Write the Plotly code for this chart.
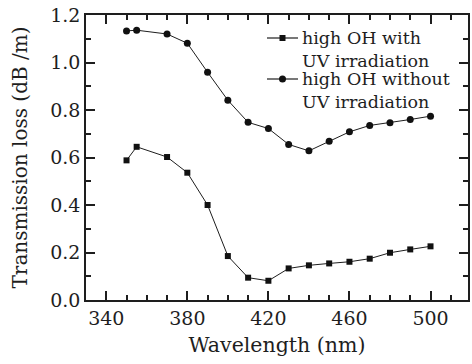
import plotly.graph_objects as go

wavelength = [350, 355, 370, 380, 390, 400, 410, 420, 430, 440, 450, 460, 470, 480, 490, 500]
with_uv = [0.588, 0.645, 0.602, 0.536, 0.400, 0.185, 0.094, 0.081, 0.133, 0.146, 0.154, 0.161, 0.174, 0.199, 0.213, 0.226]
without_uv = [1.133, 1.136, 1.120, 1.081, 0.959, 0.841, 0.748, 0.722, 0.655, 0.628, 0.668, 0.708, 0.735, 0.746, 0.760, 0.774]
x_ticks = [340, 380, 420, 460, 500]
y_ticks = [0.0, 0.2, 0.4, 0.6, 0.8, 1.0, 1.2]
legend_rows = [["high OH with", "UV irradiation"], ["high OH without", "UV irradiation"]]
legend_symbols = ["square", "circle"]

FONT = "DejaVu Serif"
INK = "#1e1e1e"
fig = go.Figure()
fig.add_trace(go.Scatter(x=wavelength, y=with_uv, mode="lines+markers",
                         name=" ".join(legend_rows[0]), showlegend=False,
                         line=dict(color=INK, width=1),
                         marker=dict(symbol="square", size=6, color="#111")))
fig.add_trace(go.Scatter(x=wavelength, y=without_uv, mode="lines+markers",
                         name=" ".join(legend_rows[1]), showlegend=False,
                         line=dict(color=INK, width=1),
                         marker=dict(symbol="circle", size=7, color="#111")))

axis_common = dict(showline=True, linecolor=INK, linewidth=1.6, mirror="ticks",
                   ticks="inside", ticklen=9, tickwidth=1.5, tickcolor=INK,
                   showgrid=False, zeroline=False, automargin=False,
                   tickfont=dict(family=FONT, size=19, color=INK))
fig.update_xaxes(range=[330, 518.5], tickvals=x_ticks,
                 minor=dict(dtick=10, tick0=330, ticks="inside", ticklen=5, tickcolor=INK, tickwidth=1.5),
                 title=dict(text="Wavelength (nm)", font=dict(family=FONT, size=20.5, color=INK), standoff=10),
                 **axis_common)
fig.update_yaxes(range=[0, 1.2], tickvals=y_ticks, tickformat=".1f",
                 minor=dict(dtick=0.1, ticks="inside", ticklen=5, tickcolor=INK, tickwidth=1.5),
                 title=dict(text="Transmission loss (dB /m)", font=dict(family=FONT, size=20, color=INK), standoff=17),
                 **axis_common)

# manual legend (tight line spacing like the reference)
plot_l, plot_w, plot_t, plot_h = 86, 382, 15, 285
def px(xp):
    return (xp - plot_l) / plot_w
def py(yp):
    return 1 - (yp - plot_t) / plot_h
entry_y = [38, 79]
for i, (rows, sym) in enumerate(zip(legend_rows, legend_symbols)):
    y0 = entry_y[i]
    r = 3.5 if sym == "circle" else 3
    fig.add_shape(type="line", xref="x domain", yref="y domain",
                  x0=px(267), x1=px(298), y0=py(y0), y1=py(y0), line=dict(color=INK, width=1.2))
    fig.add_shape(type="rect" if sym == "square" else "circle",
                  xref="x domain", yref="y domain", xsizemode="pixel", ysizemode="pixel",
                  xanchor=px(282.5), yanchor=py(y0), x0=-r, x1=r, y0=-r, y1=r,
                  fillcolor="#111", line=dict(width=0))
    fig.add_annotation(text="<br>".join(rows), xref="x domain", yref="y domain",
                       x=px(300), y=py(y0 - 12), xanchor="left", yanchor="top", align="left",
                       showarrow=False, font=dict(family=FONT, size=17.5, color=INK))

fig.update_layout(width=472, height=364, margin=dict(l=plot_l, r=472 - plot_l - plot_w, t=plot_t, b=364 - plot_t - plot_h),
                  plot_bgcolor="white", paper_bgcolor="white", showlegend=False)
fig.write_html("out.html", config={"displayModeBar": False},
               post_script="document.body.style.margin='0';document.body.style.padding='0';document.body.style.overflow='hidden';")
